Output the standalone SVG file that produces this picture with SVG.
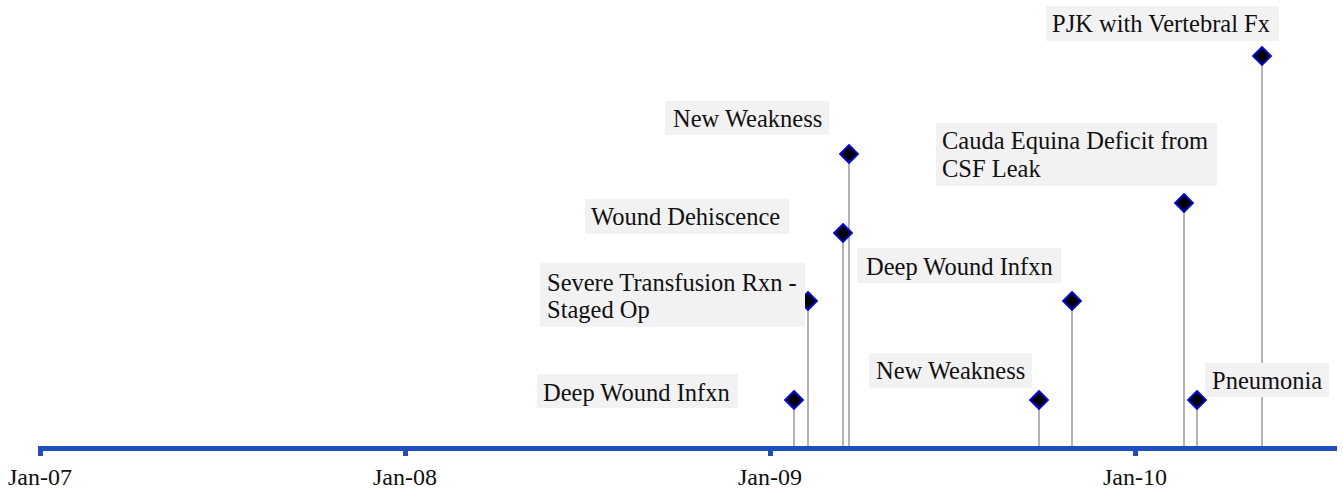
<svg xmlns="http://www.w3.org/2000/svg" width="1343" height="492" viewBox="0 0 1343 492">
<defs>
<style>
.lbl{font-family:"Liberation Serif","Times New Roman",serif;font-size:24.5px;fill:#111}
.ax{font-family:"Liberation Serif","Times New Roman",serif;font-size:24px;fill:#111;text-anchor:middle}
.box{fill:#f2f2f2}
.stem{stroke:#b3b3b3;stroke-width:2;fill:none}
.dia{fill:#000;stroke:#0000ff;stroke-width:1.8}
</style>
<path id="d" d="M0,-9 L9,0 L0,9 L-9,0 Z"/>
</defs>
<rect width="1343" height="492" fill="#fff"/>
<g id="connectors">
<line class="stem" x1="794" y1="400" x2="794" y2="448"/>
<line class="stem" x1="808" y1="301" x2="808" y2="448"/>
<line class="stem" x1="843" y1="233" x2="843" y2="448"/>
<line class="stem" x1="849" y1="154" x2="849" y2="448"/>
<line class="stem" x1="1039" y1="400" x2="1039" y2="448"/>
<line class="stem" x1="1072" y1="301" x2="1072" y2="448"/>
<line class="stem" x1="1184" y1="203" x2="1184" y2="448"/>
<line class="stem" x1="1197" y1="400" x2="1197" y2="448"/>
<line class="stem" x1="1262" y1="56" x2="1262" y2="448"/>
</g>
<g id="axis">
<line x1="38" y1="448.5" x2="1337" y2="448.5" stroke="#1f4fbf" stroke-width="5"/>
<rect x="38" y="448" width="5" height="8" fill="#1f4fbf"/>
<rect x="403" y="448" width="5" height="8" fill="#1f4fbf"/>
<rect x="768" y="448" width="5" height="8" fill="#1f4fbf"/>
<rect x="1133" y="448" width="5" height="8" fill="#1f4fbf"/>
<text class="ax" x="40" y="485">Jan-07</text>
<text class="ax" x="405" y="485">Jan-08</text>
<text class="ax" x="770" y="485">Jan-09</text>
<text class="ax" x="1135" y="485">Jan-10</text>
</g>
<g id="e1"><use href="#d" class="dia" x="794" y="400"/><rect class="box" x="537" y="374" width="201" height="34"/><text class="lbl" x="543" y="401">Deep Wound Infxn</text></g>
<g id="e2"><use href="#d" class="dia" x="808" y="301"/><rect class="box" x="540" y="263" width="265" height="64"/><text class="lbl" x="547" y="291">Severe Transfusion Rxn -</text><text class="lbl" x="547" y="318">Staged Op</text></g>
<g id="e3"><use href="#d" class="dia" x="843" y="233"/><rect class="box" x="585" y="199" width="204" height="35"/><text class="lbl" x="591" y="225">Wound Dehiscence</text></g>
<g id="e4"><use href="#d" class="dia" x="849" y="154"/><rect class="box" x="665" y="101" width="164" height="34"/><text class="lbl" x="673" y="127">New Weakness</text></g>
<g id="e5"><use href="#d" class="dia" x="1039" y="400"/><rect class="box" x="869" y="353" width="163" height="35"/><text class="lbl" x="876" y="379">New Weakness</text></g>
<g id="e6"><use href="#d" class="dia" x="1072" y="301"/><rect class="box" x="857" y="248" width="204" height="35"/><text class="lbl" x="866" y="275">Deep Wound Infxn</text></g>
<g id="e7"><use href="#d" class="dia" x="1184" y="203"/><rect class="box" x="936" y="123" width="281" height="63"/><text class="lbl" x="942" y="149">Cauda Equina Deficit from</text><text class="lbl" x="942" y="177">CSF Leak</text></g>
<g id="e8"><use href="#d" class="dia" x="1197" y="400"/><rect class="box" x="1205" y="363" width="124" height="34"/><text class="lbl" x="1212" y="389">Pneumonia</text></g>
<g id="e9"><use href="#d" class="dia" x="1262" y="56"/><rect class="box" x="1046" y="6" width="233" height="35"/><text class="lbl" x="1052" y="32">PJK with Vertebral Fx</text></g>
</svg>
